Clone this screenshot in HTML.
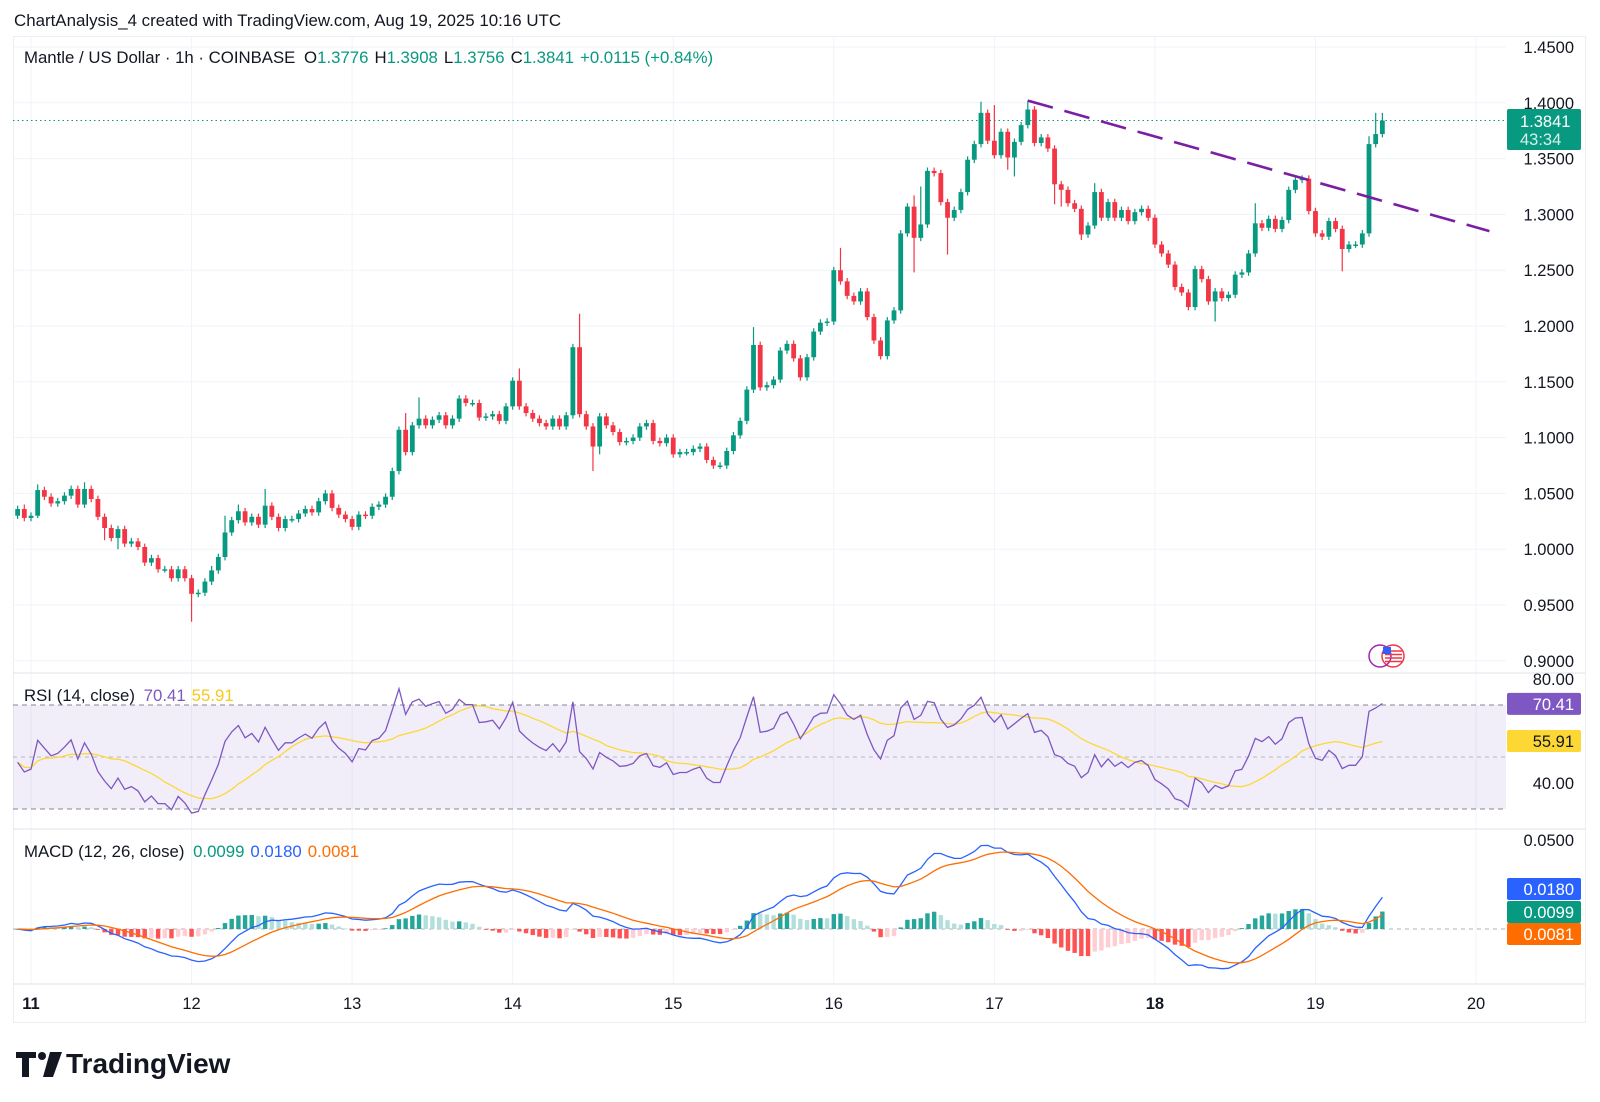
<!DOCTYPE html>
<html><head><meta charset="utf-8">
<style>
html,body{margin:0;padding:0;background:#fff;}
svg{display:block;font-family:"Liberation Sans",Arial,sans-serif;}
</style></head>
<body>
<svg id="c" width="1600" height="1102" viewBox="0 0 1600 1102" xmlns="http://www.w3.org/2000/svg">
<rect x="0" y="0" width="1600" height="1102" fill="#fff"/>
<text x="14" y="26" font-size="16.9" fill="#131722">ChartAnalysis_4 created with TradingView.com, Aug 19, 2025 10:16 UTC</text>
<rect x="13.5" y="36.5" width="1572" height="986" fill="none" stroke="#eceef2"/>
<g id="grid"></g>
<g id="rsiBg"></g>
<g id="macdG"></g>
<g id="candles"></g>
<g id="overlay"></g>
<g id="axes"></g>
<text x="24" y="63" font-size="16.8" fill="#131722">Mantle / US Dollar · 1h · COINBASE <tspan dx="4">O</tspan><tspan fill="#089981">1.3776</tspan><tspan dx="6">H</tspan><tspan fill="#089981">1.3908</tspan><tspan dx="6">L</tspan><tspan fill="#089981">1.3756</tspan><tspan dx="6">C</tspan><tspan fill="#089981">1.3841</tspan><tspan dx="6" fill="#089981">+0.0115 (+0.84%)</tspan></text>
<text x="24" y="701" font-size="16.8" fill="#131722">RSI (14, close) <tspan dx="4" fill="#7E57C2">70.41</tspan><tspan dx="6" fill="#F7C81E">55.91</tspan></text>
<text x="24" y="857" font-size="16.8" fill="#131722">MACD (12, 26, close) <tspan dx="4" fill="#089981">0.0099</tspan><tspan dx="6" fill="#2962FF">0.0180</tspan><tspan dx="6" fill="#FF6D00">0.0081</tspan></text>
<g>
<path d="M16 1052h20v6h-7v19h-7v-19h-6z" fill="#131722"/>
<circle cx="42" cy="1056" r="4" fill="#131722"/>
<path d="M50 1052h12l-9 25h-10z" fill="#131722"/>
<text x="66" y="1073" font-size="28" font-weight="bold" fill="#131722">TradingView</text>
</g>
</svg>
<script>
const closes=[1.036,1.028,1.030,1.053,1.047,1.041,1.043,1.048,1.054,1.040,1.054,1.045,1.029,1.019,1.010,1.018,1.005,1.007,1.002,0.988,0.992,0.982,0.982,0.974,0.982,0.974,0.960,0.961,0.971,0.981,0.993,1.015,1.026,1.034,1.024,1.029,1.022,1.039,1.029,1.019,1.027,1.027,1.032,1.036,1.033,1.043,1.050,1.037,1.031,1.027,1.020,1.031,1.030,1.038,1.040,1.047,1.070,1.107,1.087,
1.111,1.117,1.111,1.116,1.120,1.111,1.117,1.135,1.131,1.131,1.118,1.119,1.121,1.115,1.128,1.151,1.128,1.122,1.117,1.113,1.110,1.117,1.110,1.120,1.181,1.121,1.110,1.092,1.119,1.111,1.105,1.096,1.097,1.100,1.110,1.113,1.097,1.095,1.100,1.085,1.087,1.087,1.090,1.092,1.080,1.075,1.075,1.088,1.102,1.115,1.143,1.183,1.145,1.147,1.152,1.178,1.184,
1.171,1.154,1.172,1.195,1.203,1.204,1.250,1.240,1.227,1.222,1.231,1.208,1.187,1.173,1.205,1.214,1.283,1.307,1.279,1.291,1.339,1.337,1.311,1.297,1.304,1.320,1.349,1.363,1.391,1.366,1.353,1.374,1.351,1.365,1.380,1.394,1.364,1.369,1.359,1.327,1.322,1.310,
1.305,1.282,1.290,1.320,1.297,1.311,1.297,1.304,1.294,1.302,1.305,1.297,1.273,1.265,1.255,1.235,1.230,1.217,1.251,1.242,1.222,1.231,1.225,1.228,1.246,1.248,1.265,1.292,1.288,1.296,1.287,1.295,1.322,1.331,1.332,1.303,1.283,1.280,1.294,1.287,1.269,1.273,1.273,1.283,1.363,1.372,1.3841];
const firstHour=-2;
const firstOpen=1.030;
const wickHigh={"-1":1.040,"1":1.058,"8":1.060,"27":0.985,"29":1.030,"31":1.040,"35":1.054,"56":1.122,"58":1.136,"73":1.162,"82":1.211,"93":1.116,"108":1.199,"121":1.270,"132":1.317,"133":1.325,"142":1.401,"144":1.398,"149":1.402,"159":1.328,"183":1.310,"200":1.370,"201":1.391,"202":1.391};
const wickLow={"1":1.028,"24":0.935,"84":1.070,"85":1.085,"132":1.248,"137":1.264,"146":1.340,"147":1.334,"153":1.309,"154":1.307,"157":1.277,"177":1.204,"196":1.249,"11":1.008,"13":1.000};
const priceTicks=[1.45,1.40,1.35,1.30,1.25,1.20,1.15,1.10,1.05,1.00,0.95,0.90];
const dayLabels=["11","12","13","14","15","16","17","18","19","20"];
const rsiTicks=[80,40];
const rsiLevels=[70,50,30];
const rsiSeedGain=0.0035;
const rsiSeedLoss=0.0038;
const lastPrice=1.3841;
const trendStart=[149,1.402];
const trendEnd=[218,1.285];

const NS="http://www.w3.org/2000/svg";
function mk(p,t,a){const e=document.createElementNS(NS,t);for(const k in a)e.setAttribute(k,a[k]);p.appendChild(e);return e;}
const xH=h=>31+h*6.69;
const yP=p=>47+(1.45-p)*1116;
const yR=v=>679+(80-v)*2.6;
const yM=v=>929-v*1780;
const PL=13, PR=1506;
const FS=16.5;
const G=document.getElementById('grid');
priceTicks.forEach(p=>{const l=mk(G,'line',{x1:PL,x2:PR,y1:yP(p),y2:yP(p),stroke:'#f0f3fa','stroke-width':1});

});
dayLabels.forEach((d,i)=>{const x=xH(i*24);const l=mk(G,'line',{x1:x,x2:x,y1:37,y2:984,stroke:'#f0f3fa','stroke-width':1});

});
[673,829,984].forEach(y=>{const l=mk(G,'line',{x1:13,x2:1585,y1:y,y2:y,stroke:'#e0e3eb','stroke-width':1});

});

const A=document.getElementById('axes');
priceTicks.forEach(p=>{const t=mk(A,'text',{x:1574,y:yP(p)+6,'font-size':FS,'text-anchor':'end',fill:'#131722'});t.textContent=p.toFixed(4);

});
dayLabels.forEach((d,i)=>{const t=mk(A,'text',{x:xH(i*24),y:1009,'font-size':FS,'text-anchor':'middle',fill:'#131722','font-weight':(d==='11'||d==='18')?'bold':'normal'});t.textContent=d;

});

const C=document.getElementById('candles');
let prev=firstOpen;
closes.forEach((c,i)=>{const h=firstHour+i;const o=prev;prev=c;
 const up=c>=o;const col=up?'#089981':'#F23645';
 const hi=wickHigh[h]!==undefined?wickHigh[h]:Math.max(o,c)+0.003;
 const lo=wickLow[h]!==undefined?wickLow[h]:Math.min(o,c)-0.003;
 const x=xH(h);
 const w=mk(C,'line',{x1:x,x2:x,y1:yP(hi),y2:yP(lo),stroke:col,'stroke-width':1.2});
 
 
 const t=Math.min(yP(o),yP(c));const bh=Math.max(1.5,Math.abs(yP(o)-yP(c)));
 const b=mk(C,'rect',{x:x-2.4,y:t,width:4.8,height:bh,fill:col});
 
 
});

const O=document.getElementById('overlay');
let e=mk(O,'line',{x1:PL,x2:PR,y1:yP(lastPrice),y2:yP(lastPrice),stroke:'#089981','stroke-width':1,'stroke-dasharray':'1.5 3'});


e=mk(O,'line',{x1:xH(trendStart[0]),y1:yP(trendStart[1]),x2:xH(trendEnd[0]),y2:yP(trendEnd[1]),stroke:'#7B1FA2','stroke-width':2.6,'stroke-dasharray':'26 12'});


e=mk(O,'rect',{x:1507,y:109,width:74,height:41,rx:2,fill:'#089981'});


e=mk(O,'text',{x:1520,y:127,'font-size':FS,fill:'#fff'});e.textContent='1.3841';


e=mk(O,'text',{x:1520,y:145,'font-size':FS,fill:'#d6f0ea'});e.textContent='43:34';


e=mk(O,'circle',{cx:1393,cy:656,r:11,fill:'#fff',stroke:'#F23645','stroke-width':1.5});


e=mk(O,'circle',{cx:1380,cy:656,r:11,fill:'none',stroke:'#9c27b0','stroke-width':1.5});


[0,1,2,3].forEach(k=>{const s=mk(O,'line',{x1:1385,x2:1402,y1:651+k*3.5,y2:651+k*3.5,stroke:'#F23645','stroke-width':1.6});

});
e=mk(O,'rect',{x:1383,y:647,width:8,height:7,fill:'#2962FF'});



const R=document.getElementById('rsiBg');
e=mk(R,'rect',{x:PL,y:yR(70),width:PR-PL,height:yR(30)-yR(70),fill:'#7E57C2','fill-opacity':0.1});


rsiLevels.forEach(v=>{const l=mk(R,'line',{x1:PL,x2:PR,y1:yR(v),y2:yR(v),stroke:'#787b86','stroke-width':1,'stroke-dasharray':v===50?'4 4':'5 4','stroke-opacity':v===50?0.5:0.9});

});
rsiTicks.forEach(v=>{const t=mk(R,'text',{x:1574,y:yR(v)+6,'font-size':FS,'text-anchor':'end',fill:'#131722'});t.textContent=v.toFixed(2);

});
const rsi=[];let ag=rsiSeedGain,al=rsiSeedLoss;
for(let i=0;i<closes.length;i++){const ch=i===0?0:closes[i]-closes[i-1];const g=Math.max(ch,0),l=Math.max(-ch,0);
 if(i>0){ag=(ag*13+g)/14;al=(al*13+l)/14;}
 rsi.push(al===0?100:100-100/(1+ag/al));}
const rsiMA=rsi.map((v,i)=>{const s=rsi.slice(Math.max(0,i-13),i+1);return s.reduce((a,b)=>a+b,0)/s.length;});
function pathOf(arr,fy,start){return arr.map((v,i)=>(i===start?'M':'L')+xH(firstHour+i).toFixed(1)+' '+fy(v).toFixed(1)).slice(start).join(' ');}
const clampR=v=>Math.min(Math.max(yR(v),674),828);
e=mk(R,'path',{d:pathOf(rsiMA,v=>clampR(v),0),fill:'none',stroke:'#FDD835','stroke-width':1.3});


e=mk(R,'path',{d:pathOf(rsi,v=>clampR(v),0),fill:'none',stroke:'#7E57C2','stroke-width':1.3});


e=mk(R,'rect',{x:1507,y:yR(70.41)-11,width:74,height:22,rx:2,fill:'#7E57C2'});


e=mk(R,'text',{x:1574,y:yR(70.41)+6,'font-size':FS,'text-anchor':'end',fill:'#fff'});e.textContent='70.41';


e=mk(R,'rect',{x:1507,y:730,width:74,height:22,rx:2,fill:'#FDD835'});


e=mk(R,'text',{x:1574,y:747,'font-size':FS,'text-anchor':'end',fill:'#131722'});e.textContent='55.91';



const M=document.getElementById('macdG');
function ema(a,n){const k=2/(n+1);const o=[];a.forEach((v,i)=>o.push(i===0?v:v*k+o[i-1]*(1-k)));return o;}
const e12=ema(closes,12),e26=ema(closes,26);
const macd=e12.map((v,i)=>v-e26[i]);
const sig=ema(macd,9);
const hist=macd.map((v,i)=>v-sig[i]);
e=mk(M,'line',{x1:PL,x2:PR,y1:yM(0),y2:yM(0),stroke:'#787b86','stroke-width':1,'stroke-dasharray':'4 4','stroke-opacity':0.6});


hist.forEach((v,i)=>{const p=i>0?hist[i-1]:0;let col;
 if(v>=0)col=v>=p?'#26A69A':'#B2DFDB';else col=v<p?'#FF5252':'#FFCDD2';
 const y0=yM(0),y1=yM(v);
 const b=mk(M,'rect',{x:xH(firstHour+i)-2.2,y:Math.min(y0,y1),width:4.4,height:Math.max(0.8,Math.abs(y1-y0)),fill:col});
 
 });
e=mk(M,'path',{d:pathOf(macd,yM,0),fill:'none',stroke:'#2962FF','stroke-width':1.3});


e=mk(M,'path',{d:pathOf(sig,yM,0),fill:'none',stroke:'#FF6D00','stroke-width':1.3});


e=mk(M,'text',{x:1574,y:yM(0.05)+6,'font-size':FS,'text-anchor':'end',fill:'#131722'});e.textContent='0.0500';


[['0.0180','#2962FF',889],['0.0099','#089981',912],['0.0081','#FF6D00',934]].forEach(b=>{
 const r=mk(M,'rect',{x:1507,y:b[2]-11,width:74,height:22,rx:2,fill:b[1]});
 
 
 const t=mk(M,'text',{x:1574,y:b[2]+6,'font-size':FS,'text-anchor':'end',fill:'#fff'});t.textContent=b[0];
 
 });
</script>
</body></html>
